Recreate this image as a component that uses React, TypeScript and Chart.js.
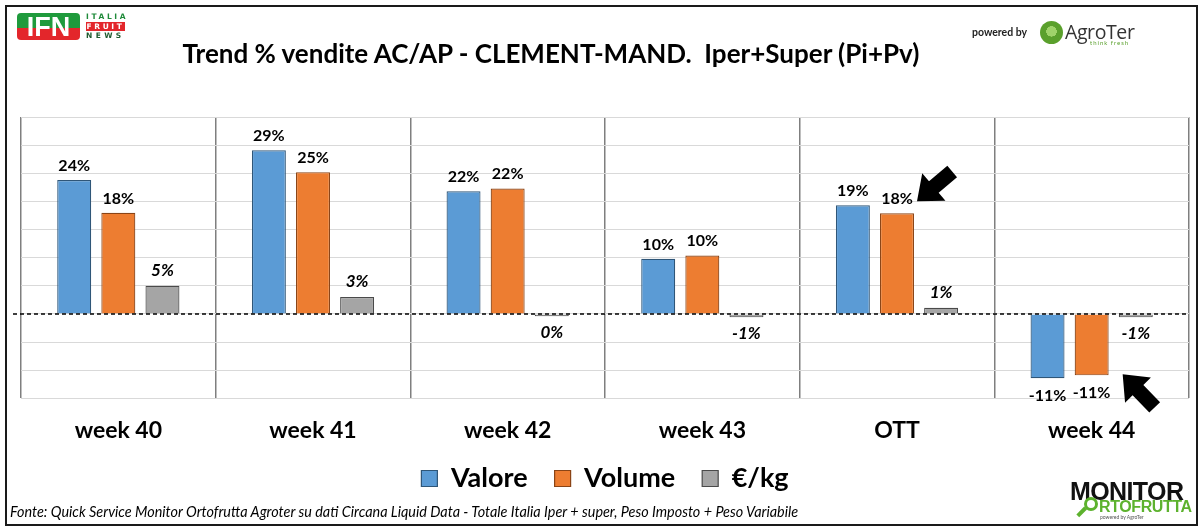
import React, { useEffect, useRef } from "react";
import { Chart, registerables } from "chart.js";

Chart.register(...registerables);

const categories = ["week 40", "week 41", "week 42", "week 43", "OTT", "week 44"];
const valore = [23.8, 29.1, 21.8, 9.8, 19.3, -11.4];
const volume = [18.0, 25.2, 22.3, 10.4, 17.9, -10.9];
const euroKg = [5.0, 3.0, -0.4, -0.6, 1.1, -0.6];
const seriesNames = ["Valore", "Volume", "€/kg"];
const yMin = -15;
const yMax = 35;
const yStep = 5;

const FONT = "Lato, 'Open Sans', sans-serif";
const LEGEND_SHIFT = 24;

const fmt = (v: number) => {
  const r = Math.round(v);
  return (Object.is(r, -0) ? 0 : r) + "%";
};

const valueLabels = {
  id: "valueLabels",
  afterDatasetsDraw(chart: any) {
    const ctx = chart.ctx;
    chart.data.datasets.forEach((ds: any, di: number) => {
      const meta = chart.getDatasetMeta(di);
      meta.data.forEach((bar: any, i: number) => {
        const v = ds.data[i] as number;
        const italic = di === 2;
        const { x, y, base } = bar.getProps(["x", "y", "base"], true);
        ctx.save();
        ctx.font = `${italic ? "italic " : ""}bold ${italic ? 17 : 16}px ${FONT}`;
        ctx.fillStyle = "#000";
        ctx.textAlign = "center";
        ctx.textBaseline = "alphabetic";
        if (v >= 0) {
          ctx.fillText(fmt(v), x, Math.min(y, base) - (italic ? 10 : 9));
        } else {
          ctx.fillText(fmt(v), x, Math.max(y, base) + (italic ? 22 : 23));
        }
        ctx.restore();
      });
    });
  },
};

const zeroLine = {
  id: "zeroLine",
  afterDatasetsDraw(chart: any) {
    const ctx = chart.ctx;
    const y0 = chart.scales.y.getPixelForValue(0);
    const { left, right } = chart.chartArea;
    ctx.save();
    ctx.strokeStyle = "#000";
    ctx.lineWidth = 1.3;
    ctx.setLineDash([4, 3]);
    ctx.beginPath();
    ctx.moveTo(left - 8, y0);
    ctx.lineTo(right, y0);
    ctx.stroke();
    ctx.restore();
  },
};

const legendShift = {
  id: "legendShift",
  afterLayout(chart: any) {
    const lg = chart.legend;
    if (!lg) return;
    lg.top -= LEGEND_SHIFT;
    lg.bottom -= LEGEND_SHIFT;
  },
};

function drawArrow(ctx: any, tx: number, ty: number, angle: number) {
  ctx.save();
  ctx.translate(tx, ty);
  ctx.rotate(angle);
  ctx.fillStyle = "#000";
  ctx.beginPath();
  ctx.moveTo(0, 0);
  ctx.lineTo(-22, -18);
  ctx.lineTo(-22, -7.5);
  ctx.lineTo(-46, -7.5);
  ctx.lineTo(-46, 7.5);
  ctx.lineTo(-22, 7.5);
  ctx.lineTo(-22, 18);
  ctx.closePath();
  ctx.fill();
  ctx.restore();
}

const arrows = {
  id: "arrows",
  afterDatasetsDraw(chart: any) {
    const ctx = chart.ctx;
    const meta = chart.getDatasetMeta(1);
    const ott = meta.data[4];
    const w44 = meta.data[5];
    if (ott) {
      const { x, y } = ott.getProps(["x", "y"], true);
      drawArrow(ctx, x + 20, y - 12, Math.atan2(32, -38));
    }
    if (w44) {
      const { x, y } = w44.getProps(["x", "y"], true);
      drawArrow(ctx, x + 31, y - 1, Math.atan2(-33, -32));
    }
  },
};

export default function App() {
  const ref = useRef<HTMLCanvasElement | null>(null);

  useEffect(() => {
    if (!ref.current) return;
    const chart = new Chart(ref.current, {
      type: "bar",
      data: {
        labels: categories,
        datasets: [
          {
            label: seriesNames[0],
            data: valore,
            backgroundColor: "#5B9BD5",
            borderColor: "#2f5678",
            borderWidth: 1.2,
            categoryPercentage: 0.68,
            barPercentage: 0.77,
          },
          {
            label: seriesNames[1],
            data: volume,
            backgroundColor: "#ED7D31",
            borderColor: "#8a4416",
            borderWidth: 1.2,
            categoryPercentage: 0.68,
            barPercentage: 0.77,
          },
          {
            label: seriesNames[2],
            data: euroKg,
            backgroundColor: "#A5A5A5",
            borderColor: "#4a4a4a",
            borderWidth: 1.2,
            categoryPercentage: 0.68,
            barPercentage: 0.77,
          },
        ],
      },
      options: {
        animation: false,
        responsive: false,
        devicePixelRatio: 1,
        layout: { padding: { left: 21, right: 11, top: 117, bottom: 3 } },
        plugins: {
          title: { display: false },
          tooltip: { enabled: false },
          legend: {
            position: "bottom",
            labels: {
              boxWidth: 16,
              boxHeight: 16,
              padding: 27,
              color: "#000",
              font: { family: FONT, size: 27, weight: "bold" },
            },
          },
        },
        scales: {
          x: {
            grid: { color: "#7f7f7f", lineWidth: 1.5, drawTicks: false, offset: true },
            border: { display: false },
            ticks: {
              color: "#000",
              padding: 18,
              font: { family: FONT, size: 23, weight: "bold" },
            },
          },
          y: {
            min: yMin,
            max: yMax,
            ticks: { stepSize: yStep, display: false },
            grid: { color: "#d9d9d9", lineWidth: 1, drawTicks: false },
            border: { display: false },
          },
        },
      },
      plugins: [zeroLine, valueLabels, arrows, legendShift],
    });
    return () => chart.destroy();
  }, []);

  const abs = (s: React.CSSProperties): React.CSSProperties => ({ position: "absolute", ...s });

  return (
    <div style={{ position: "fixed", left: 0, top: 0, width: 1200, height: 529, background: "#fff", overflow: "hidden" }}>
      <canvas ref={ref} width={1200} height={529} style={abs({ left: 0, top: 0, width: 1200, height: 529 })} />
      {/* outer frame */}
      <div style={abs({ left: 5, top: 5, width: 1193, height: 521, border: "2.5px solid #1a1a1a", boxSizing: "border-box", pointerEvents: "none" })} />
      {/* title */}
      <div style={abs({ left: 551, top: 37, transform: "translateX(-50%)", whiteSpace: "pre", fontFamily: FONT, fontWeight: 700, fontSize: 26, color: "#000", lineHeight: "32px" })}>
        {"Trend % vendite AC/AP - CLEMENT-MAND.  Iper+Super (Pi+Pv)"}
      </div>
      {/* IFN logo */}
      <div style={abs({ left: 17, top: 13, width: 63, height: 27, borderRadius: 4, background: "linear-gradient(#1f9a3c 0 55%, #e3262b 55% 100%)", overflow: "hidden" })}>
        <div style={{ color: "#fff", fontFamily: "'Liberation Sans', Arial, sans-serif", fontWeight: 900, fontSize: 27, lineHeight: "28px", textAlign: "center", letterSpacing: 0 }}>IFN</div>
      </div>
      <div style={abs({ left: 86, top: 12, fontFamily: "'DejaVu Sans', sans-serif", fontWeight: 700, fontSize: 7.5, letterSpacing: 2.6, color: "#1f8a3a", lineHeight: "9px" })}>ITALIA</div>
      <div style={abs({ left: 86, top: 22, width: 39, height: 9, background: "#e3262b", fontFamily: "'DejaVu Sans', sans-serif", fontWeight: 700, fontSize: 7.5, letterSpacing: 2.6, color: "#fff", lineHeight: "9px", textAlign: "center" })}>FRUIT</div>
      <div style={abs({ left: 86, top: 31, fontFamily: "'DejaVu Sans', sans-serif", fontWeight: 700, fontSize: 7.5, letterSpacing: 3.4, color: "#1e5a2e", lineHeight: "9px" })}>NEWS</div>
      {/* AgroTer logo */}
      <div style={abs({ left: 972, top: 26, fontFamily: FONT, fontWeight: 700, fontSize: 10.5, color: "#222" })}>powered by</div>
      <div style={abs({ left: 1040, top: 21, width: 23, height: 23, borderRadius: "50%", background: "radial-gradient(circle at 50% 45%, #9fd36a 0 30%, #5aa02c 31% 100%)" })} />
      <div style={abs({ left: 1065, top: 19, fontFamily: "'Open Sans', sans-serif", fontSize: 19.5, color: "#333", lineHeight: "26px", letterSpacing: -0.4 })}>AgroTer</div>
      <div style={abs({ left: 1090, top: 39, fontFamily: FONT, fontSize: 6, color: "#5aa02c", letterSpacing: 1 })}>think fresh</div>
      {/* MONITOR ORTOFRUTTA logo */}
      <div style={abs({ left: 1070, top: 478, fontFamily: "'Liberation Sans', Arial, sans-serif", fontWeight: 900, fontSize: 25, color: "#111", lineHeight: "26px", letterSpacing: -0.6 })}>MONITOR</div>
      <div style={abs({ left: 1099, top: 498, fontFamily: "'Liberation Sans', Arial, sans-serif", fontWeight: 900, fontSize: 16, color: "#5db22e", lineHeight: "17px", letterSpacing: -0.4 })}>RTOFRUTTA</div>
      <div style={abs({ left: 1084, top: 497, width: 14, height: 14, borderRadius: "50%", border: "3px solid #5db22e", boxSizing: "border-box", background: "#fff" })} />
      <div style={abs({ left: 1076, top: 510, width: 11, height: 3.5, background: "#5db22e", transform: "rotate(-45deg)" })} />
      <div style={abs({ left: 1100, top: 514, fontFamily: FONT, fontSize: 5, color: "#555" })}>powered by AgroTer</div>
      {/* footer */}
      <div style={abs({ left: 10, top: 503, whiteSpace: "pre", fontFamily: FONT, fontStyle: "italic", fontSize: 14.4, color: "#000", lineHeight: "17px" })}>
        {"Fonte: Quick Service Monitor Ortofrutta Agroter su dati Circana Liquid Data - Totale Italia Iper + super, Peso Imposto + Peso Variabile"}
      </div>
    </div>
  );
}
